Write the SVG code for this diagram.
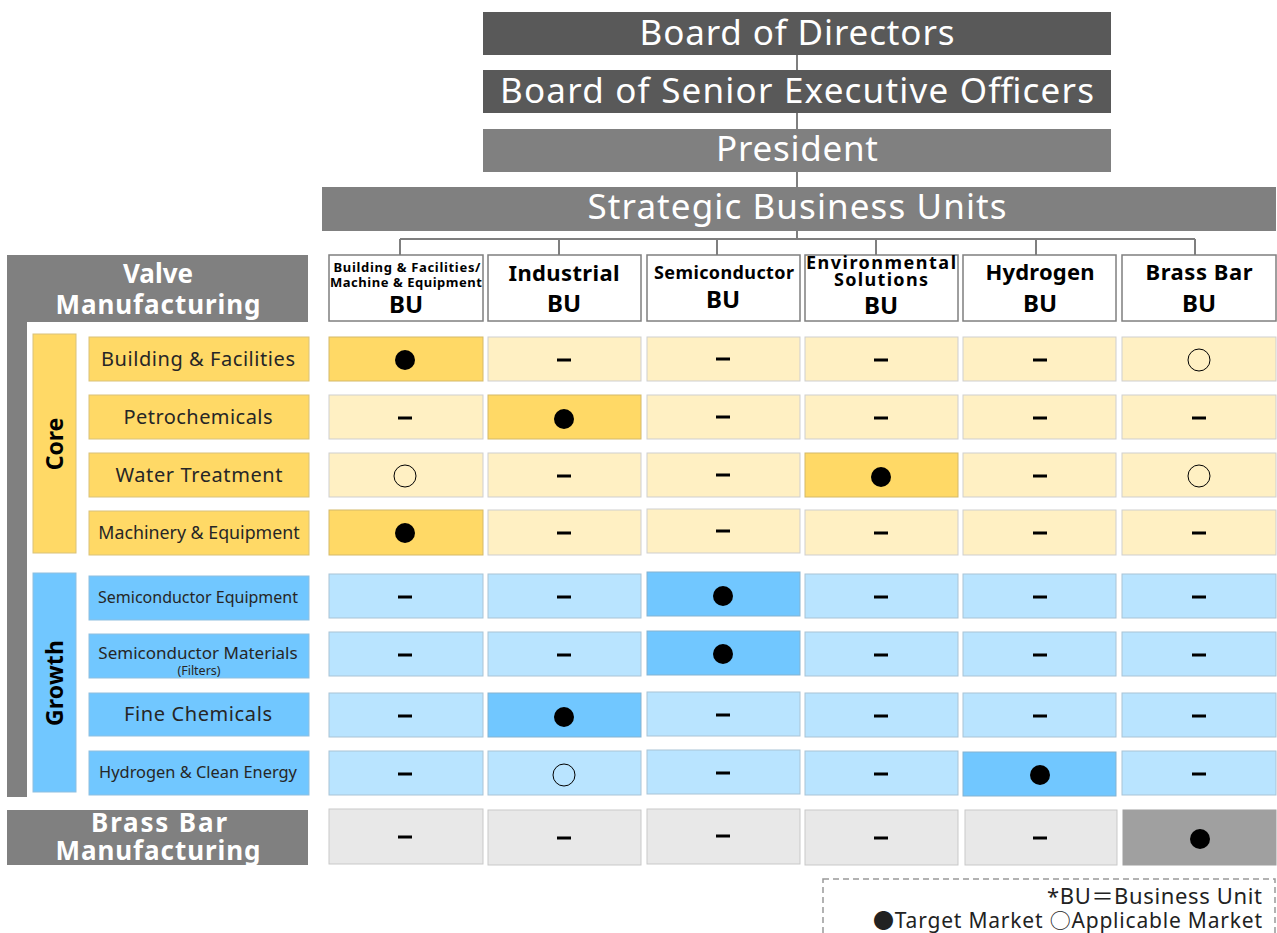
<svg xmlns="http://www.w3.org/2000/svg" xmlns:xlink="http://www.w3.org/1999/xlink" width="1277" height="933" viewBox="0 0 1277 933">
<style>
.top{fill:#fff;font-family:"Noto Sans",sans-serif;font-size:35px;text-anchor:middle}
.hdr{fill:#000;font-family:"Noto Sans",sans-serif;font-weight:bold;text-anchor:middle}
.wh{fill:#fff;font-family:"Noto Sans",sans-serif;font-weight:bold;text-anchor:middle;font-size:26px}
.lbl{fill:#262626;font-family:"Noto Sans",sans-serif;text-anchor:middle}
.bu{fill:#fff;stroke:#7f7f7f;stroke-width:1.5}
.conn{fill:none;stroke:#7f7f7f;stroke-width:2}
.cy{fill:#FFF0C3;stroke:#cfcfcf}
.cY{fill:#FFD966;stroke:#d4b96a}
.cb{fill:#B9E4FF;stroke:#a9c4d6}
.cB{fill:#71C7FF;stroke:#85b3d1}
.cg{fill:#E8E8E8;stroke:#c9c9c9}
.cG{fill:#A0A0A0;stroke:#a0a0a0}
.ly{fill:#FFD966;stroke:#d9c27a}
.lb{fill:#71C7FF;stroke:#8fbfe0}
.leg{fill:#222;font-family:"Noto Sans","Noto Sans CJK JP",sans-serif;text-anchor:end}
.cjk{font-family:"Noto Sans CJK JP",sans-serif}
</style>
<defs>
<rect id="dash" x="-7" y="-1.5" width="14" height="3" fill="#000"/>
<circle id="dot" r="10" fill="#000"/>
<circle id="ring" r="11" fill="none" stroke="#000" stroke-width="1"/>
</defs>
<rect width="1277" height="933" fill="#fff"/>

<g id="connectors">
<path class="conn" d="M797 55V187M797 231V239M400 239H1195M400 239V255M559 239V255M717 239V255M876 239V255M1036 239V255M1195 239V255"/>
</g>

<g id="board">
<rect x="483" y="12" width="628" height="43" fill="#595959"/>
<text class="top" x="797" y="45" textLength="315">Board of Directors</text>
</g>
<g id="senior">
<rect x="483" y="70" width="628" height="43" fill="#595959"/>
<text class="top" x="797" y="103" textLength="594">Board of Senior Executive Officers</text>
</g>
<g id="president">
<rect x="483" y="129" width="628" height="43" fill="#808080"/>
<text class="top" x="797" y="161" textLength="162">President</text>
</g>
<g id="sbu">
<rect x="322" y="187" width="954" height="44" fill="#808080"/>
<text class="top" x="797" y="219" textLength="419">Strategic Business Units</text>
</g>

<g id="bu-headers">
<g id="bu1"><rect class="bu" x="329" y="255" width="154" height="66"/>
<text class="hdr" x="407" y="272" font-size="13" textLength="147">Building &amp; Facilities/</text>
<text class="hdr" x="406" y="287" font-size="13" textLength="152">Machine &amp; Equipment</text>
<text class="hdr" x="406" y="313" font-size="24">BU</text></g>
<g id="bu2"><rect class="bu" x="488" y="255" width="153" height="66"/>
<text class="hdr" x="564" y="281" font-size="22" textLength="111">Industrial</text>
<text class="hdr" x="564" y="312" font-size="24">BU</text></g>
<g id="bu3"><rect class="bu" x="647" y="255" width="153" height="66"/>
<text class="hdr" x="724" y="279" font-size="18" textLength="140">Semiconductor</text>
<text class="hdr" x="723" y="308" font-size="24">BU</text></g>
<g id="bu4"><rect class="bu" x="805" y="255" width="153" height="66"/>
<text class="hdr" x="881" y="269" font-size="18" textLength="150">Environmental</text>
<text class="hdr" x="881" y="286" font-size="18" textLength="94">Solutions</text>
<text class="hdr" x="881" y="314" font-size="24">BU</text></g>
<g id="bu5"><rect class="bu" x="963" y="255" width="153" height="66"/>
<text class="hdr" x="1040" y="280" font-size="22" textLength="109">Hydrogen</text>
<text class="hdr" x="1040" y="312" font-size="24">BU</text></g>
<g id="bu6"><rect class="bu" x="1122" y="255" width="154" height="66"/>
<text class="hdr" x="1199" y="280" font-size="22" textLength="107">Brass Bar</text>
<text class="hdr" x="1199" y="312" font-size="24">BU</text></g>
</g>

<g id="valve">
<rect x="7" y="255" width="301" height="67" fill="#808080"/>
<rect x="7" y="255" width="20" height="542" fill="#808080"/>
<text class="wh" x="158" y="283">Valve</text>
<text class="wh" x="158" y="314" textLength="205">Manufacturing</text>
</g>

<g id="core">
<rect class="ly" x="33" y="334" width="43" height="219"/>
<text class="hdr" font-size="23" transform="translate(63 444) rotate(-90)">Core</text>
</g>
<g id="growth">
<rect class="lb" x="33" y="573" width="43" height="219"/>
<text class="hdr" font-size="23" transform="translate(63 683) rotate(-90)" textLength="86">Growth</text>
</g>

<g id="row-labels">
<g id="l1"><rect class="ly" x="89" y="337" width="220" height="44"/><text class="lbl" x="198" y="366" style="font-size:20px" textLength="194">Building &amp; Facilities</text></g>
<g id="l2"><rect class="ly" x="89" y="395" width="220" height="44"/><text class="lbl" x="198" y="424" style="font-size:20px" textLength="149">Petrochemicals</text></g>
<g id="l3"><rect class="ly" x="89" y="453" width="220" height="44"/><text class="lbl" x="199" y="482" style="font-size:20px" textLength="167">Water Treatment</text></g>
<g id="l4"><rect class="ly" x="89" y="511" width="220" height="44"/><text class="lbl" x="199" y="539" style="font-size:17.8px">Machinery &amp; Equipment</text></g>
<g id="l5"><rect class="lb" x="89" y="576" width="220" height="44"/><text class="lbl" x="198" y="603" style="font-size:16px">Semiconductor  Equipment</text></g>
<g id="l6"><rect class="lb" x="89" y="634" width="220" height="44"/><text class="lbl" x="198" y="659" style="font-size:17px">Semiconductor Materials</text><text class="lbl" x="199" y="675" style="font-size:12.5px">(Filters)</text></g>
<g id="l7"><rect class="lb" x="89" y="693" width="220" height="43"/><text class="lbl" x="198" y="721" style="font-size:20px" textLength="148">Fine Chemicals</text></g>
<g id="l8"><rect class="lb" x="89" y="751" width="220" height="44"/><text class="lbl" x="198" y="778" style="font-size:16.4px">Hydrogen &amp; Clean Energy</text></g>
</g>

<g id="brass">
<rect x="7" y="810" width="301" height="55" fill="#808080"/>
<text class="wh" x="159" y="832" textLength="136">Brass Bar</text>
<text class="wh" x="158" y="860" textLength="205">Manufacturing</text>
</g>

<g id="matrix">
<!-- row 1 -->
<rect class="cY" x="329" y="337" width="154" height="44"/><use xlink:href="#dot" x="405" y="360"/>
<rect class="cy" x="488" y="337" width="153" height="44"/><use xlink:href="#dash" x="564" y="360"/>
<rect class="cy" x="647" y="337" width="153" height="44"/><use xlink:href="#dash" x="723" y="359"/>
<rect class="cy" x="805" y="337" width="153" height="44"/><use xlink:href="#dash" x="881" y="360"/>
<rect class="cy" x="963" y="337" width="153" height="44"/><use xlink:href="#dash" x="1040" y="360"/>
<rect class="cy" x="1122" y="337" width="154" height="44"/><use xlink:href="#ring" x="1199" y="360"/>
<!-- row 2 -->
<rect class="cy" x="329" y="395" width="154" height="44"/><use xlink:href="#dash" x="405" y="418"/>
<rect class="cY" x="488" y="395" width="153" height="44"/><use xlink:href="#dot" x="564" y="419"/>
<rect class="cy" x="647" y="395" width="153" height="44"/><use xlink:href="#dash" x="723" y="417"/>
<rect class="cy" x="805" y="395" width="153" height="44"/><use xlink:href="#dash" x="881" y="418"/>
<rect class="cy" x="963" y="395" width="153" height="44"/><use xlink:href="#dash" x="1040" y="418"/>
<rect class="cy" x="1122" y="395" width="154" height="44"/><use xlink:href="#dash" x="1199" y="418"/>
<!-- row 3 -->
<rect class="cy" x="329" y="453" width="154" height="44"/><use xlink:href="#ring" x="405" y="476"/>
<rect class="cy" x="488" y="453" width="153" height="44"/><use xlink:href="#dash" x="564" y="476"/>
<rect class="cy" x="647" y="453" width="153" height="44"/><use xlink:href="#dash" x="723" y="475"/>
<rect class="cY" x="805" y="453" width="153" height="44"/><use xlink:href="#dot" x="881" y="477"/>
<rect class="cy" x="963" y="453" width="153" height="44"/><use xlink:href="#dash" x="1040" y="476"/>
<rect class="cy" x="1122" y="453" width="154" height="44"/><use xlink:href="#ring" x="1199" y="476"/>
<!-- row 4 -->
<rect class="cY" x="329" y="510" width="154" height="45"/><use xlink:href="#dot" x="405" y="533"/>
<rect class="cy" x="488" y="510" width="153" height="45"/><use xlink:href="#dash" x="564" y="533"/>
<rect class="cy" x="647" y="509" width="153" height="44"/><use xlink:href="#dash" x="723" y="531"/>
<rect class="cy" x="805" y="510" width="153" height="45"/><use xlink:href="#dash" x="881" y="533"/>
<rect class="cy" x="963" y="510" width="153" height="45"/><use xlink:href="#dash" x="1040" y="533"/>
<rect class="cy" x="1122" y="510" width="154" height="45"/><use xlink:href="#dash" x="1199" y="533"/>
<!-- row 5 -->
<rect class="cb" x="329" y="574" width="154" height="44"/><use xlink:href="#dash" x="405" y="597"/>
<rect class="cb" x="488" y="574" width="153" height="44"/><use xlink:href="#dash" x="564" y="597"/>
<rect class="cB" x="647" y="572" width="153" height="44"/><use xlink:href="#dot" x="723" y="596"/>
<rect class="cb" x="805" y="574" width="153" height="44"/><use xlink:href="#dash" x="881" y="597"/>
<rect class="cb" x="963" y="574" width="153" height="44"/><use xlink:href="#dash" x="1040" y="597"/>
<rect class="cb" x="1122" y="574" width="154" height="44"/><use xlink:href="#dash" x="1199" y="597"/>
<!-- row 6 -->
<rect class="cb" x="329" y="632" width="154" height="44"/><use xlink:href="#dash" x="405" y="655"/>
<rect class="cb" x="488" y="632" width="153" height="44"/><use xlink:href="#dash" x="564" y="655"/>
<rect class="cB" x="647" y="631" width="153" height="44"/><use xlink:href="#dot" x="723" y="654"/>
<rect class="cb" x="805" y="632" width="153" height="44"/><use xlink:href="#dash" x="881" y="655"/>
<rect class="cb" x="963" y="632" width="153" height="44"/><use xlink:href="#dash" x="1040" y="655"/>
<rect class="cb" x="1122" y="632" width="154" height="44"/><use xlink:href="#dash" x="1199" y="655"/>
<!-- row 7 -->
<rect class="cb" x="329" y="693" width="154" height="44"/><use xlink:href="#dash" x="405" y="716"/>
<rect class="cB" x="488" y="693" width="153" height="44"/><use xlink:href="#dot" x="564" y="717"/>
<rect class="cb" x="647" y="692" width="153" height="44"/><use xlink:href="#dash" x="723" y="715"/>
<rect class="cb" x="805" y="693" width="153" height="44"/><use xlink:href="#dash" x="881" y="716"/>
<rect class="cb" x="963" y="693" width="153" height="44"/><use xlink:href="#dash" x="1040" y="716"/>
<rect class="cb" x="1122" y="693" width="154" height="44"/><use xlink:href="#dash" x="1199" y="716"/>
<!-- row 8 -->
<rect class="cb" x="329" y="751" width="154" height="44"/><use xlink:href="#dash" x="405" y="774"/>
<rect class="cb" x="488" y="751" width="153" height="44"/><use xlink:href="#ring" x="564" y="775"/>
<rect class="cb" x="647" y="750" width="153" height="44"/><use xlink:href="#dash" x="723" y="773"/>
<rect class="cb" x="805" y="751" width="153" height="44"/><use xlink:href="#dash" x="881" y="774"/>
<rect class="cB" x="963" y="752" width="153" height="44"/><use xlink:href="#dot" x="1040" y="775"/>
<rect class="cb" x="1122" y="751" width="154" height="44"/><use xlink:href="#dash" x="1199" y="774"/>
<!-- row 9 brass -->
<rect class="cg" x="329" y="809" width="154" height="55"/><use xlink:href="#dash" x="405" y="837"/>
<rect class="cg" x="488" y="810" width="153" height="55"/><use xlink:href="#dash" x="564" y="838"/>
<rect class="cg" x="647" y="809" width="153" height="55"/><use xlink:href="#dash" x="723" y="836"/>
<rect class="cg" x="805" y="810" width="153" height="55"/><use xlink:href="#dash" x="881" y="838"/>
<rect class="cg" x="965" y="810" width="152" height="55"/><use xlink:href="#dash" x="1040" y="838"/>
<rect class="cG" x="1123" y="810" width="153" height="55"/><use xlink:href="#dot" x="1200" y="839"/>
</g>

<g id="legend">
<rect x="823" y="879" width="452" height="70" fill="none" stroke="#999" stroke-width="1.5" stroke-dasharray="6 4"/>
<text class="leg" x="1262" y="904" style="font-size:22px" textLength="215">*BU＝Business Unit</text>
<text class="leg" x="1262" y="928" style="font-size:21px" textLength="389"><tspan class="cjk">●</tspan>Target Market <tspan class="cjk">○</tspan>Applicable Market</text>
</g>
</svg>
